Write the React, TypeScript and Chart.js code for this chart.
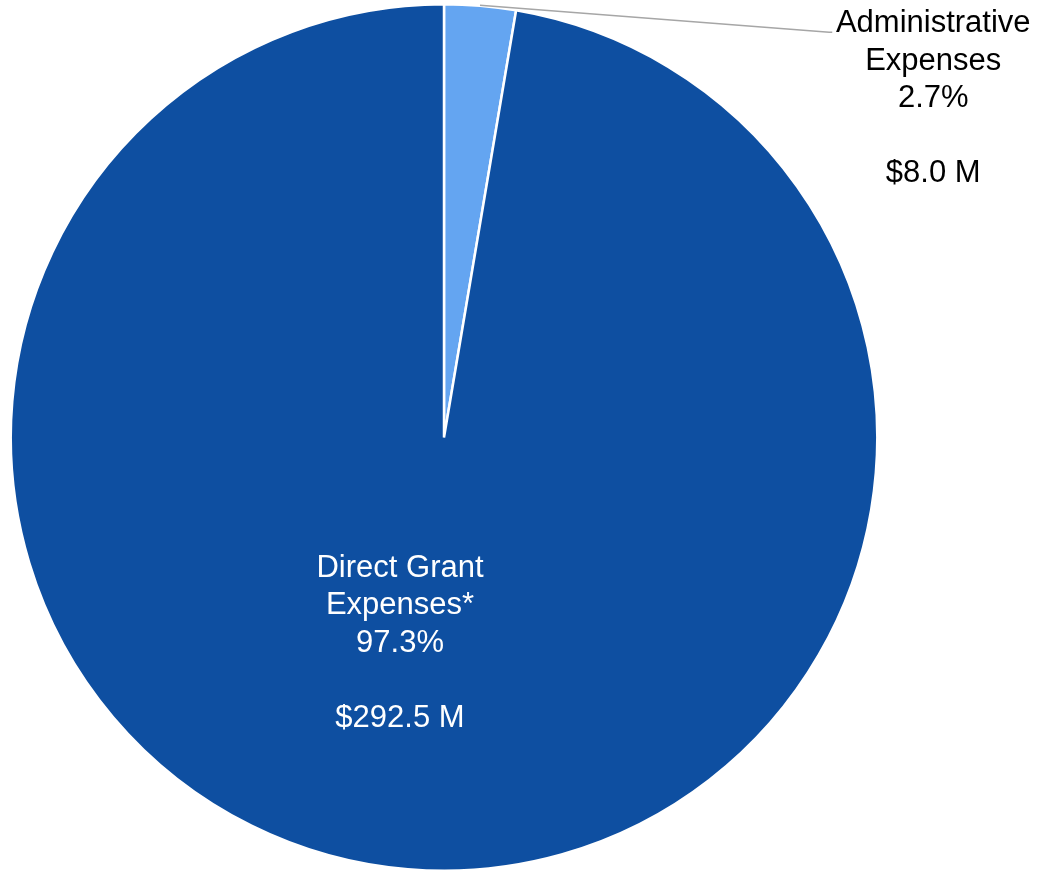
import React, { useEffect, useRef } from "react";
import { Chart, registerables } from "chart.js";

Chart.register(...registerables);

const categories: string[] = ["Administrative Expenses", "Direct Grant Expenses*"];
const amounts: number[] = [8.0, 292.5];
const percentLabels: string[] = ["2.7%", "97.3%"];
const amountLabels: string[] = ["$8.0 M", "$292.5 M"];
const labelLines: string[][] = [["Administrative", "Expenses"], ["Direct Grant", "Expenses*"]];
const colors: string[] = ["#64A5F1", "#0E4FA1"];

const FONT = '31px "Liberation Sans", Arial, sans-serif';

const labelPlugin = {
  id: "pieLabels",
  afterDraw(chart: any) {
    const ctx = chart.ctx;
    const arc = chart.getDatasetMeta(0).data[0];
    const cx = arc.x;
    const cy = arc.y;
    const r = arc.outerRadius;
    ctx.save();
    ctx.font = FONT;
    ctx.textAlign = "center";
    ctx.textBaseline = "alphabetic";
    const lh = 37.5;

    // Administrative label (outside, with leader line)
    const ax = cx + r + 55;
    const ay = cy - r + 28;
    ctx.strokeStyle = "#A6A6A6";
    ctx.lineWidth = 1.3;
    ctx.beginPath();
    ctx.moveTo(cx + 36, cy - r + 1);
    ctx.lineTo(ax - 103, ay);
    ctx.lineTo(ax - 100, ay);
    ctx.stroke();
    ctx.fillStyle = "#000000";
    const adminLines = [...labelLines[0], percentLabels[0], "", amountLabels[0]];
    adminLines.forEach((t, i) => ctx.fillText(t, ax + 1, ay + i * lh));

    // Direct grant label (inside)
    const mx = cx - 44;
    const my = cy + 139;
    ctx.fillStyle = "#FFFFFF";
    const mainLines = [...labelLines[1], percentLabels[1], "", amountLabels[1]];
    mainLines.forEach((t, i) => ctx.fillText(t, mx, my + i * lh));
    ctx.restore();
  },
};

export default function App() {
  const ref = useRef<HTMLCanvasElement | null>(null);
  useEffect(() => {
    document.body.style.margin = "0";
    const chart = new Chart(ref.current as HTMLCanvasElement, {
      type: "pie",
      data: {
        labels: categories,
        datasets: [
          {
            data: amounts,
            backgroundColor: colors,
            borderColor: "#FFFFFF",
            borderWidth: 2.5,
          },
        ],
      },
      options: {
        responsive: false,
        animation: false,
        layout: { padding: { left: 8, right: 158, top: 3, bottom: 0 } },
        plugins: {
          legend: { display: false },
          tooltip: { enabled: false },
          title: { display: false },
        },
      },
      plugins: [labelPlugin],
    });
    return () => chart.destroy();
  }, []);
  return (
    <div style={{ position: "absolute", left: 0, top: 0, width: 1038, height: 872, background: "#FFFFFF" }}>
      <canvas ref={ref} width={1038} height={872} />
    </div>
  );
}
